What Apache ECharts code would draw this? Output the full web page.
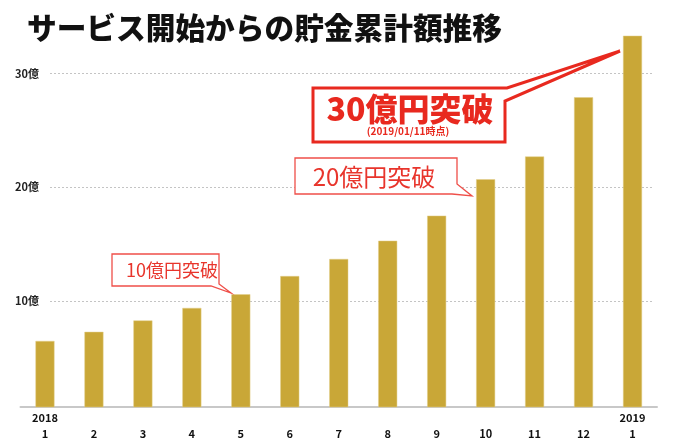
<!DOCTYPE html>
<html>
<head>
<meta charset="utf-8">
<script src="https://cdn.jsdelivr.net/npm/echarts@6/dist/echarts.min.js"></script>
<style>
  html, body { margin: 0; padding: 0; background: #fff; }
  #main { width: 700px; height: 446px; }
</style>
</head>
<body>
<div id="main"></div>
<script>
// 月ごとの貯金累計額(億円)
const months = ['1', '2', '3', '4', '5', '6', '7', '8', '9', '10', '11', '12', '1'];
const years = ['2018', '', '', '', '', '', '', '', '', '', '', '', '2019'];
const totals = [6.5, 7.3, 8.3, 9.4, 10.6, 12.2, 13.7, 15.3, 17.5, 20.7, 22.7, 27.9, 33.3];
const yTicks = [10, 20, 30];

const FONT = '"Noto Sans CJK JP", "Noto Sans", sans-serif';
const RED = '#e8291f';

const chart = echarts.init(document.getElementById('main'));

// 吹き出しのテキスト(中央揃え)
function calloutText(text, x, y, font, color) {
    return {
        type: 'text',
        z: 101,
        x: x,
        y: y,
        style: { text: text, font: font, fill: color, align: 'center', verticalAlign: 'middle' }
    };
}

const option = {
    backgroundColor: '#fff',
    animation: false,
    title: {
        text: 'サービス開始からの貯金累計額推移',
        left: 22,
        top: 8,
        textStyle: {
            fontFamily: FONT,
            fontSize: 29.7,
            fontWeight: 900,
            color: '#111'
        }
    },
    grid: [
        { left: 20.5, right: 43, top: 5, bottom: 39 },
        { left: 50, right: 48, top: 5, bottom: 39 }
    ],
    xAxis: [{
        type: 'category',
        gridIndex: 0,
        data: months,
        axisLine: { onZero: false, lineStyle: { color: '#c8c8c8', width: 2 } },
        axisTick: { show: false },
        axisLabel: {
            interval: 0,
            margin: 3,
            lineHeight: 16,
            fontFamily: FONT,
            fontSize: 11,
            fontWeight: 'bold',
            color: '#111',
            formatter: (v, i) => years[i] + '\n' + v
        }
    }, {
        type: 'value',
        gridIndex: 1,
        show: false
    }],
    yAxis: [{
        type: 'value',
        gridIndex: 0,
        min: 0.7,
        max: 36,
        show: false,
        splitLine: { show: false }
    }, {
        type: 'value',
        gridIndex: 1,
        min: 0.7,
        max: 36,
        axisLine: { show: false },
        axisTick: { show: false, customValues: yTicks },
        axisLabel: {
            customValues: yTicks,
            margin: 11,
            fontFamily: FONT,
            fontSize: 11,
            fontWeight: 'bold',
            color: '#222',
            formatter: v => v + '億'
        },
        splitLine: {
            show: true,
            lineStyle: { color: '#c4c4c4', type: [2, 2], width: 1 }
        }
    }],
    series: [{
        type: 'bar',
        xAxisIndex: 0,
        yAxisIndex: 0,
        data: totals,
        barWidth: 19,
        itemStyle: {
            color: '#c9a737',
            borderColor: '#e2cf8a',
            borderWidth: 0.5
        }
    }],
    graphic: [
        {
            type: 'polygon',
            z: 100,
            shape: { points: [[112, 254], [219, 254], [219, 284], [231, 293], [211, 286], [112, 286]] },
            style: { fill: '#fff', stroke: '#ef4f49', lineWidth: 1.3 }
        },
        calloutText('10億円突破', 172, 270, '18px ' + FONT, '#e8352c'),
        {
            type: 'polygon',
            z: 100,
            shape: { points: [[295, 158], [457, 158], [457, 184], [472, 196], [452, 194], [295, 194]] },
            style: { fill: '#fff', stroke: '#ef4f49', lineWidth: 1.3 }
        },
        calloutText('20億円突破', 374, 177, '24px ' + FONT, '#e8352c'),
        {
            type: 'polygon',
            z: 100,
            shape: { points: [[313, 88], [507, 88], [620, 51], [505, 101], [505, 142], [313, 142]] },
            style: { fill: '#fff', stroke: RED, lineWidth: 3, lineJoin: 'miter' }
        },
        calloutText('30億円突破', 410, 109, '900 32px ' + FONT, RED),
        calloutText('(2019/01/11時点)', 408, 131, 'bold 10px ' + FONT, RED)
    ]
};

chart.setOption(option);
</script>
</body>
</html>
